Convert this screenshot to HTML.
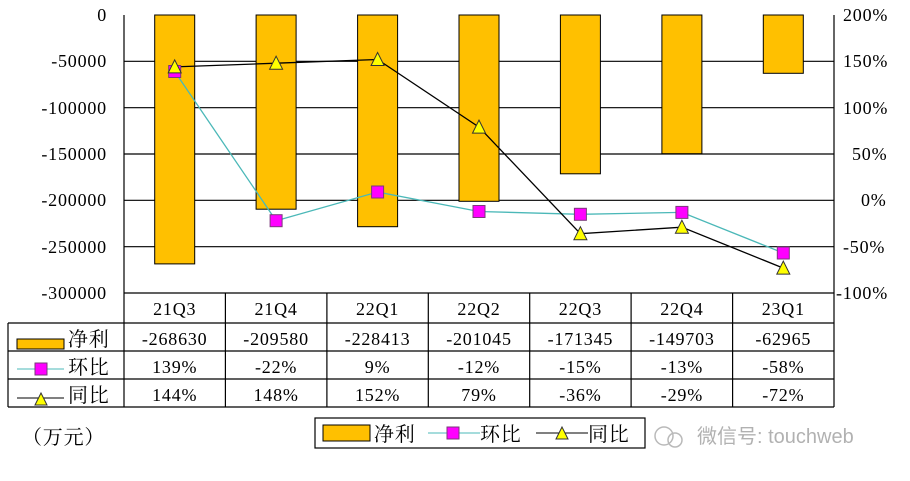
<!DOCTYPE html>
<html><head><meta charset="utf-8"><style>
body{margin:0;background:#fff;}
svg text{font-family:"Liberation Serif","Noto Serif CJK SC",serif;font-size:18px;letter-spacing:0.8px;fill:#000;}
</style></head><body>
<svg width="910" height="476" viewBox="0 0 910 476" xmlns="http://www.w3.org/2000/svg">
<rect width="910" height="476" fill="#fff"/>
<g stroke="#000" stroke-width="1.2">
<line x1="124" y1="61.3" x2="834" y2="61.3"/>
<line x1="124" y1="107.7" x2="834" y2="107.7"/>
<line x1="124" y1="154" x2="834" y2="154"/>
<line x1="124" y1="200.3" x2="834" y2="200.3"/>
<line x1="124" y1="246.7" x2="834" y2="246.7"/>
<line x1="124" y1="15" x2="124" y2="293"/>
<line x1="834" y1="15" x2="834" y2="293"/>
</g>
<g fill="#FFC000" stroke="#000" stroke-width="1">
<rect x="154.7" y="15" width="40" height="248.9"/>
<rect x="256.1" y="15" width="40" height="194.2"/>
<rect x="357.6" y="15" width="40" height="211.7"/>
<rect x="459" y="15" width="40" height="186.3"/>
<rect x="560.4" y="15" width="40" height="158.8"/>
<rect x="661.9" y="15" width="40" height="138.7"/>
<rect x="763.3" y="15" width="40" height="58.3"/>
</g>
<polyline fill="none" stroke="#4bb8b8" stroke-width="1.3" points="174.7,71.5 276.1,220.7 377.6,192 479,211.5 580.4,214.3 681.9,212.4 783.3,253"/>
<polyline fill="none" stroke="#000" stroke-width="1.3" points="174.7,66.9 276.1,63.2 377.6,59.5 479,127.1 580.4,233.7 681.9,227.2 783.3,268.1"/>
<g fill="#ff00ff" stroke="#7a3a7a" stroke-width="1">
<rect x="168.7" y="65.5" width="12" height="12"/>
<rect x="270.1" y="214.7" width="12" height="12"/>
<rect x="371.6" y="186" width="12" height="12"/>
<rect x="473" y="205.5" width="12" height="12"/>
<rect x="574.4" y="208.3" width="12" height="12"/>
<rect x="675.9" y="206.4" width="12" height="12"/>
<rect x="777.3" y="247" width="12" height="12"/>
</g>
<g fill="#ffff00" stroke="#333" stroke-width="1">
<polygon points="174.7,59.9 168.2,72.9 181.2,72.9"/>
<polygon points="276.1,56.2 269.6,69.2 282.6,69.2"/>
<polygon points="377.6,52.5 371.1,65.5 384.1,65.5"/>
<polygon points="479,120.1 472.5,133.1 485.5,133.1"/>
<polygon points="580.4,226.7 573.9,239.7 586.9,239.7"/>
<polygon points="681.9,220.2 675.4,233.2 688.4,233.2"/>
<polygon points="783.3,261.1 776.8,274.1 789.8,274.1"/>
</g>
<g text-anchor="end">
<text x="107" y="21">0</text>
<text x="107" y="67">-50000</text>
<text x="107" y="114">-100000</text>
<text x="107" y="160">-150000</text>
<text x="107" y="206">-200000</text>
<text x="107" y="253">-250000</text>
<text x="107" y="299">-300000</text>
</g>
<g text-anchor="start">
<text x="843" y="21">200%</text>
<text x="843" y="67">150%</text>
<text x="843" y="114">100%</text>
<text x="852" y="160">50%</text>
<text x="861" y="206">0%</text>
<text x="843" y="253">-50%</text>
<text x="836" y="299">-100%</text>
</g>
<g stroke="#000" stroke-width="1.2" fill="none">
<line x1="124" y1="293" x2="834" y2="293"/>
<line x1="8" y1="323" x2="834" y2="323"/>
<line x1="8" y1="351" x2="834" y2="351"/>
<line x1="8" y1="379" x2="834" y2="379"/>
<line x1="8" y1="407" x2="834" y2="407"/>
<line x1="8" y1="323" x2="8" y2="407"/>
<line x1="834" y1="293" x2="834" y2="407"/>
<line x1="124" y1="293" x2="124" y2="407"/>
<line x1="225.4" y1="293" x2="225.4" y2="407"/>
<line x1="326.9" y1="293" x2="326.9" y2="407"/>
<line x1="428.3" y1="293" x2="428.3" y2="407"/>
<line x1="529.7" y1="293" x2="529.7" y2="407"/>
<line x1="631.1" y1="293" x2="631.1" y2="407"/>
<line x1="732.6" y1="293" x2="732.6" y2="407"/>
</g>
<g text-anchor="middle">
<text x="174.7" y="315">21Q3</text><text x="276.1" y="315">21Q4</text><text x="377.6" y="315">22Q1</text><text x="479" y="315">22Q2</text><text x="580.4" y="315">22Q3</text><text x="681.9" y="315">22Q4</text><text x="783.3" y="315">23Q1</text>
<text x="174.7" y="345">-268630</text><text x="276.1" y="345">-209580</text><text x="377.6" y="345">-228413</text><text x="479" y="345">-201045</text><text x="580.4" y="345">-171345</text><text x="681.9" y="345">-149703</text><text x="783.3" y="345">-62965</text>
<text x="174.7" y="373">139%</text><text x="276.1" y="373">-22%</text><text x="377.6" y="373">9%</text><text x="479" y="373">-12%</text><text x="580.4" y="373">-15%</text><text x="681.9" y="373">-13%</text><text x="783.3" y="373">-58%</text>
<text x="174.7" y="401">144%</text><text x="276.1" y="401">148%</text><text x="377.6" y="401">152%</text><text x="479" y="401">79%</text><text x="580.4" y="401">-36%</text><text x="681.9" y="401">-29%</text><text x="783.3" y="401">-72%</text>
</g>
<rect x="17" y="339" width="47" height="10" fill="#FFC000" stroke="#000"/>
<text x="68" y="346" style="font-size:20px">净利</text>
<line x1="17" y1="369" x2="64" y2="369" stroke="#4bb8b8"/>
<rect x="35" y="363" width="12" height="12" fill="#ff00ff" stroke="#7a3a7a"/>
<text x="68" y="374" style="font-size:20px">环比</text>
<line x1="17" y1="398" x2="64" y2="398" stroke="#000"/>
<polygon points="41,393 35,405 47,405" fill="#ffff00" stroke="#333"/>
<text x="68" y="402" style="font-size:20px">同比</text>
<text x="22" y="444" style="font-size:20px">（万元）</text>
<rect x="315" y="418" width="330" height="30" fill="none" stroke="#000" stroke-width="1.2"/>
<rect x="323" y="425" width="47" height="16" fill="#FFC000" stroke="#000"/>
<text x="374" y="441" style="font-size:20px">净利</text>
<line x1="428" y1="433" x2="480" y2="433" stroke="#4bb8b8"/>
<rect x="447" y="427" width="12" height="12" fill="#ff00ff" stroke="#7a3a7a"/>
<text x="480" y="441" style="font-size:20px">环比</text>
<line x1="536" y1="433" x2="588" y2="433" stroke="#000"/>
<polygon points="562,427 556,439 568,439" fill="#ffff00" stroke="#333"/>
<text x="588" y="441" style="font-size:20px">同比</text>
<g opacity="0.45">
<circle cx="664" cy="436" r="9" fill="none" stroke="#666" stroke-width="1.5"/>
<circle cx="675" cy="440" r="7" fill="none" stroke="#666" stroke-width="1.5"/>
<text x="697" y="443" style="font-family:'Liberation Sans','Noto Sans CJK SC',sans-serif;font-size:20px;letter-spacing:0;fill:#555">微信号: touchweb</text>
</g>
</svg>
</body></html>
